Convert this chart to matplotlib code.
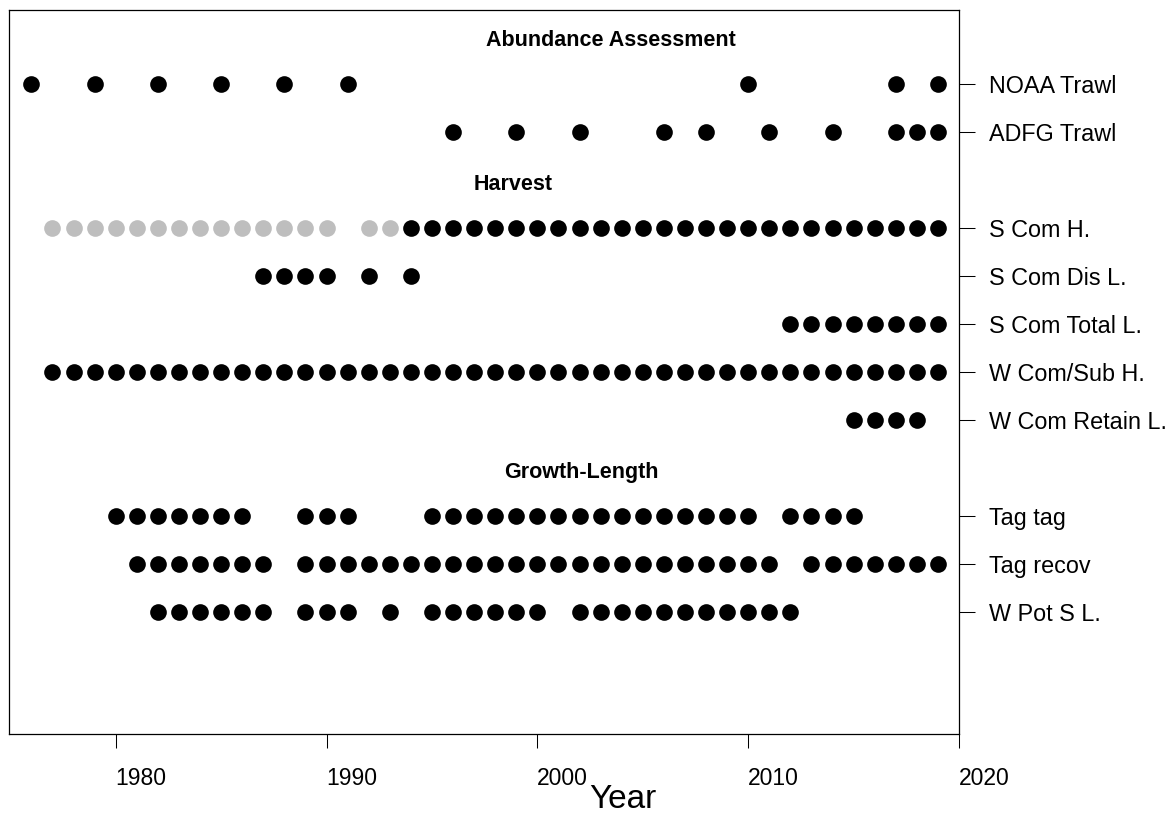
import matplotlib
matplotlib.use("Agg")
import matplotlib.pyplot as plt

plt.rcParams['font.family'] = ['Liberation Sans', 'DejaVu Sans']

# ---------------- data ----------------
row_labels = ["NOAA Trawl", "ADFG Trawl", "S Com H.", "S Com Dis L.",
              "S Com Total L.", "W Com/Sub H.", "W Com Retain L.",
              "Tag tag", "Tag recov", "W Pot S L."]
group_titles = ["Abundance Assessment", "Harvest", "Growth-Length"]

noaa_trawl = [1976, 1979, 1982, 1985, 1988, 1991, 2010, 2017, 2019]
adfg_trawl = [1996, 1999, 2002, 2006, 2008, 2011, 2014, 2017, 2018, 2019]
s_com_h_gray = [1977, 1978, 1979, 1980, 1981, 1982, 1983, 1984, 1985, 1986,
                1987, 1988, 1989, 1990, 1992, 1993]
s_com_h = [1994, 1995, 1996, 1997, 1998, 1999, 2000, 2001, 2002, 2003, 2004,
           2005, 2006, 2007, 2008, 2009, 2010, 2011, 2012, 2013, 2014, 2015,
           2016, 2017, 2018, 2019]
s_com_dis_l = [1987, 1988, 1989, 1990, 1992, 1994]
s_com_total_l = [2012, 2013, 2014, 2015, 2016, 2017, 2018, 2019]
w_com_sub_h = [1977, 1978, 1979, 1980, 1981, 1982, 1983, 1984, 1985, 1986,
               1987, 1988, 1989, 1990, 1991, 1992, 1993, 1994, 1995, 1996,
               1997, 1998, 1999, 2000, 2001, 2002, 2003, 2004, 2005, 2006,
               2007, 2008, 2009, 2010, 2011, 2012, 2013, 2014, 2015, 2016,
               2017, 2018, 2019]
w_com_retain_l = [2015, 2016, 2017, 2018]
tag_tag = [1980, 1981, 1982, 1983, 1984, 1985, 1986, 1989, 1990, 1991,
           1995, 1996, 1997, 1998, 1999, 2000, 2001, 2002, 2003, 2004, 2005,
           2006, 2007, 2008, 2009, 2010, 2012, 2013, 2014, 2015]
tag_recov = [1981, 1982, 1983, 1984, 1985, 1986, 1987, 1989, 1990, 1991,
             1992, 1993, 1994, 1995, 1996, 1997, 1998, 1999, 2000, 2001, 2002,
             2003, 2004, 2005, 2006, 2007, 2008, 2009, 2010, 2011, 2013, 2014,
             2015, 2016, 2017, 2018, 2019]
w_pot_s_l = [1982, 1983, 1984, 1985, 1986, 1987, 1989, 1990, 1991, 1993,
             1995, 1996, 1997, 1998, 1999, 2000, 2002, 2003, 2004, 2005, 2006,
             2007, 2008, 2009, 2010, 2011, 2012]

x_ticks = [1980, 1990, 2000, 2010, 2020]
x_label = "Year"

# ---------------- layout ----------------
row_pos = [1, 2, 4, 5, 6, 7, 8, 10, 11, 12]
title_pos = [0, 3, 9]
title_xfrac = [0.634, 0.531, 0.602]

series = [noaa_trawl, adfg_trawl, s_com_h, s_com_dis_l, s_com_total_l,
          w_com_sub_h, w_com_retain_l, tag_tag, tag_recov, w_pot_s_l]

W, H = 1168, 815
fig = plt.figure(figsize=(W / 100, H / 100), dpi=100)
ax = fig.add_axes([9 / W, 1 - 734 / H, 950 / W, 724 / H])

ms = 12
# gray early S Com H
ax.plot(s_com_h_gray, [row_pos[2]] * len(s_com_h_gray), 'o', color='#BEBEBE',
        ms=ms, mec='none')
for yrs, yp in zip(series, row_pos):
    ax.plot(yrs, [yp] * len(yrs), 'o', color='black', ms=ms, mec='none')

ax.set_xlim(1974.94, 2020.0)
ax.set_ylim(14.54, -0.54)

for t, yp, xf in zip(group_titles, title_pos, title_xfrac):
    ax.text(xf, yp + 0.1, t, transform=ax.get_yaxis_transform(),
            ha='center', va='center', fontsize=15.5, fontweight='bold')

ax.yaxis.tick_right()
ax.set_yticks(row_pos)
ax.set_yticklabels(row_labels)
ax.tick_params(axis='y', length=11.5, width=0.75, pad=10, labelsize=16.8,
               direction='out')

ax.set_xticks(x_ticks)
ax.set_xticklabels([str(v) for v in x_ticks])
ax.tick_params(axis='x', length=10, width=0.75, pad=14, labelsize=16.5,
               direction='out')
for lbl in ax.get_xticklabels():
    lbl.set_horizontalalignment('left')

for s in ax.spines.values():
    s.set_linewidth(0.9)

fig.text(589 / W, 1 - 808 / H, x_label, ha='left', va='baseline', fontsize=24)

fig.savefig("out.png", dpi=100)
